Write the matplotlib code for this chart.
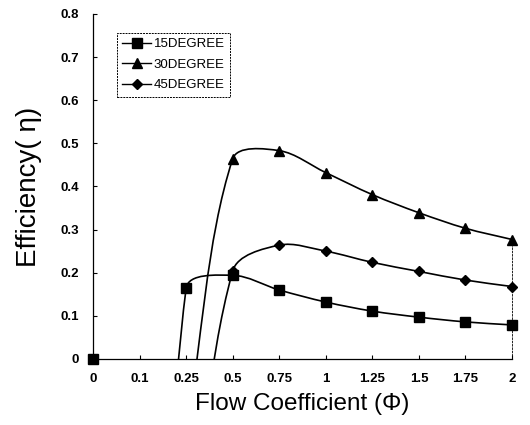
import matplotlib
matplotlib.use("Agg")
import matplotlib.pyplot as plt
from matplotlib.path import Path
from matplotlib.patches import PathPatch
from matplotlib.lines import Line2D
import numpy as np

plt.rcParams['font.family'] = ['Liberation Sans', 'DejaVu Sans']

# categories on the x axis (evenly spaced, like an Excel line chart)
categories = ["0", "0.1", "0.25", "0.5", "0.75", "1", "1.25", "1.5", "1.75", "2"]

# values per category, None = no point; values below 0 are cut off by the axis
eff_15 = [0.0, -1.5, 0.164, 0.194, 0.160, 0.132, 0.111, 0.097, 0.086, 0.079]
eff_30 = [None, None, -0.18, 0.464, 0.483, 0.432, 0.381, 0.339, 0.303, 0.277]
eff_45 = [None, None, -0.52, 0.204, 0.264, 0.250, 0.224, 0.203, 0.183, 0.168]

series = [
    ("15DEGREE", eff_15, "s", 7),
    ("30DEGREE", eff_30, "^", 7),
    ("45DEGREE", eff_45, "D", 5),
]


def smooth_path(ax, xs, ys):
    # bezier through the points, tangents split by segment length (Excel-like smoothing)
    pts = ax.transData.transform(np.column_stack([xs, ys]))
    n = len(pts)
    verts = [pts[0]]
    codes = [Path.MOVETO]
    for i in range(n - 1):
        p1, p2 = pts[i], pts[i + 1]
        p0 = pts[i - 1] if i > 0 else p1
        p3 = pts[i + 2] if i + 2 < n else p2
        seg = np.hypot(*(p2 - p1))
        l_prev = np.hypot(*(p1 - p0))
        l_next = np.hypot(*(p3 - p2))
        c1 = p1 + (p2 - p0) * (seg / (l_prev + seg)) / 3.0
        c2 = p2 - (p3 - p1) * (seg / (seg + l_next)) / 3.0
        verts += [c1, c2, p2]
        codes += [Path.CURVE4] * 3
    verts = ax.transData.inverted().transform(np.array(verts))
    return Path(verts, codes)


fig = plt.figure(figsize=(5.3, 4.25), dpi=100)
ax = fig.add_axes([0.1755, 0.1553, 0.7906, 0.812])
ax.set_xlim(0, 9)
ax.set_ylim(0, 0.8)

handles = []
for name, vals, mk, ms in series:
    xs = [i for i, v in enumerate(vals) if v is not None]
    ys = [v for v in vals if v is not None]
    ax.add_patch(PathPatch(smooth_path(ax, xs, ys), fill=False, edgecolor="black",
                           linewidth=1.2, transform=ax.transData))
    vx = [x for x, y in zip(xs, ys) if y >= 0]
    vy = [y for y in ys if y >= 0]
    ax.plot(vx, vy, linestyle="none", marker=mk, markersize=ms, color="black",
            clip_on=False, zorder=3)
    handles.append(Line2D([], [], color="black", linewidth=1.0, marker=mk,
                          markersize=ms, label=name))

ax.set_xticks(range(len(categories)))
ax.set_xticklabels(categories)
ax.set_yticks(np.arange(0, 0.81, 0.1))
ax.set_yticklabels(["0", "0.1", "0.2", "0.3", "0.4", "0.5", "0.6", "0.7", "0.8"])

ax.tick_params(axis="both", direction="in", length=3, width=0.8,
               labelsize=9.5, colors="black")
ax.tick_params(axis="x", pad=10)
ax.tick_params(axis="y", pad=10)
for lab in ax.get_xticklabels() + ax.get_yticklabels():
    lab.set_fontweight("bold")

ax.spines["top"].set_visible(False)
ax.spines["right"].set_linestyle((0, (2, 2)))
ax.spines["right"].set_linewidth(0.6)
ax.spines["right"].set_bounds(0, 0.28)
ax.spines["left"].set_linewidth(0.9)
ax.spines["bottom"].set_linewidth(0.9)

ax.set_xlabel("Flow Coefficient (Φ)", fontsize=17.5, labelpad=6)
ax.set_ylabel("Efficiency( η)", fontsize=20, labelpad=13)

leg = ax.legend(handles=handles, loc="upper left", bbox_to_anchor=(0.057, 0.945),
                borderaxespad=0, fontsize=9.5, handlelength=2.2, handletextpad=0.2,
                labelspacing=0.62, fancybox=False, framealpha=1,
                edgecolor="black", borderpad=0.4)
leg.get_frame().set_linestyle((0, (2, 1)))
leg.get_frame().set_linewidth(0.7)

fig.savefig("out.png", dpi=100)
